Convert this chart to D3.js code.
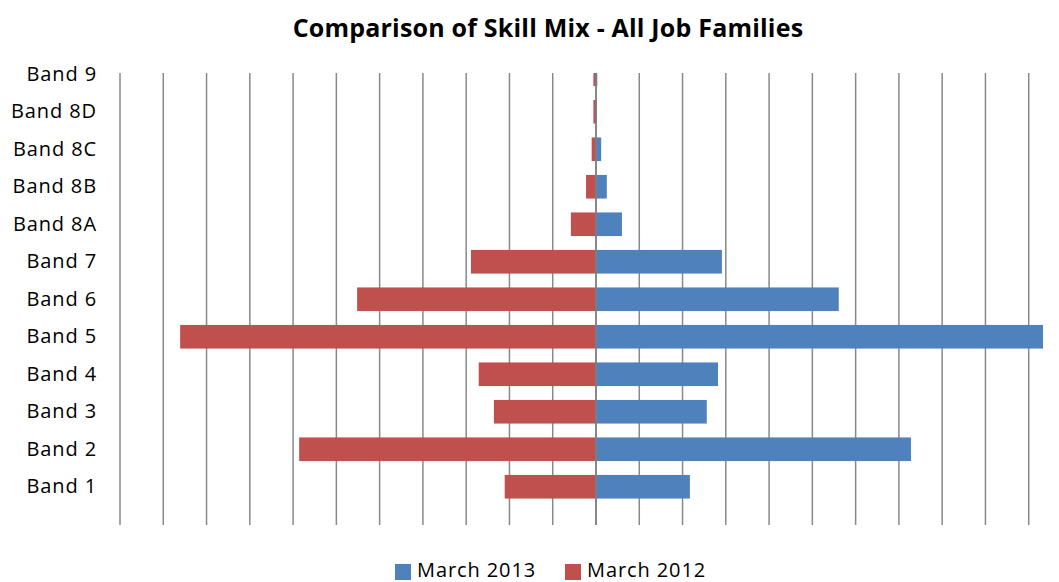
<!DOCTYPE html>
<html><head><meta charset="utf-8">
<script src="https://cdn.jsdelivr.net/npm/d3@7"></script>
<style>body{margin:0;background:#fff}svg{display:block}</style>
</head><body><svg id="c" width="1059" height="582"></svg>
<script>
const categories = ["Band 9","Band 8D","Band 8C","Band 8B","Band 8A","Band 7","Band 6","Band 5","Band 4","Band 3","Band 2","Band 1"];
const march2013 = [0.03,0.02,0.12,0.25,0.6,2.91,5.61,10.4,2.82,2.56,7.28,2.17];
const march2012 = [0.06,0.06,0.1,0.23,0.58,2.89,5.52,9.61,2.71,2.36,6.86,2.11];
const gridTicks = d3.range(-11, 11);
const seriesNames = ["March 2013","March 2012"];
const colors = ["#4F81BD","#C0504D"];

const svg = d3.select("#c");
const plot = {left:120, right:1043, top:73, bottom:525};
const x = d3.scaleLinear().domain([-11, 10.33]).range([plot.left, plot.right]);
const y = d3.scaleBand().domain(categories).range([55.5, 505.5]).paddingInner(0.37).paddingOuter(0.185);

svg.append("defs").append("clipPath").attr("id","clip").append("rect")
  .attr("x",plot.left).attr("y",plot.top).attr("width",plot.right-plot.left).attr("height",plot.bottom-plot.top);

svg.append("g").selectAll("line").data(gridTicks).join("line")
  .attr("x1",d=>x(d)).attr("x2",d=>x(d)).attr("y1",plot.top).attr("y2",plot.bottom)
  .attr("stroke","#898989").attr("stroke-width",1.5);

const g = svg.append("g").attr("clip-path","url(#clip)");
g.selectAll("rect.b").data(categories).join("rect").attr("class","b")
  .attr("x",x(0)).attr("y",d=>y(d)).attr("height",y.bandwidth())
  .attr("width",(d,i)=>x(march2013[i])-x(0)).attr("fill",colors[0]);
g.selectAll("rect.r").data(categories).join("rect").attr("class","r")
  .attr("x",(d,i)=>x(-march2012[i])).attr("y",d=>y(d)).attr("height",y.bandwidth())
  .attr("width",(d,i)=>x(0)-x(-march2012[i])).attr("fill",colors[1]);

svg.append("line").attr("x1",x(0)).attr("x2",x(0)).attr("y1",plot.top).attr("y2",plot.bottom)
  .attr("stroke","#7f7f7f").attr("stroke-width",1.5);

const yAxis = d3.axisLeft(y).tickSize(0).tickPadding(0);
const ya = svg.append("g").attr("transform","translate(97,0)").call(yAxis);
ya.select(".domain").remove();
ya.selectAll("text").attr("font-family","'Open Sans'").attr("font-size",20)
  .attr("letter-spacing","0.9px").attr("fill","#000");

svg.append("text").attr("x",548).attr("y",37).attr("text-anchor","middle")
  .attr("font-family","'Open Sans'").attr("font-weight","bold").attr("font-size",25)
  .attr("letter-spacing","0.2px")
  .text("Comparison of Skill Mix - All Job Families");

const leg = svg.append("g");
const legX = [395, 565];
seriesNames.forEach((s,i)=>{
  leg.append("rect").attr("x",legX[i]).attr("y",564).attr("width",16).attr("height",16).attr("fill",colors[i]);
  leg.append("text").attr("x",legX[i]+22).attr("y",577).attr("font-family","'Open Sans'")
    .attr("font-size",20).attr("letter-spacing","0.9px").text(s);
});
</script></body></html>
